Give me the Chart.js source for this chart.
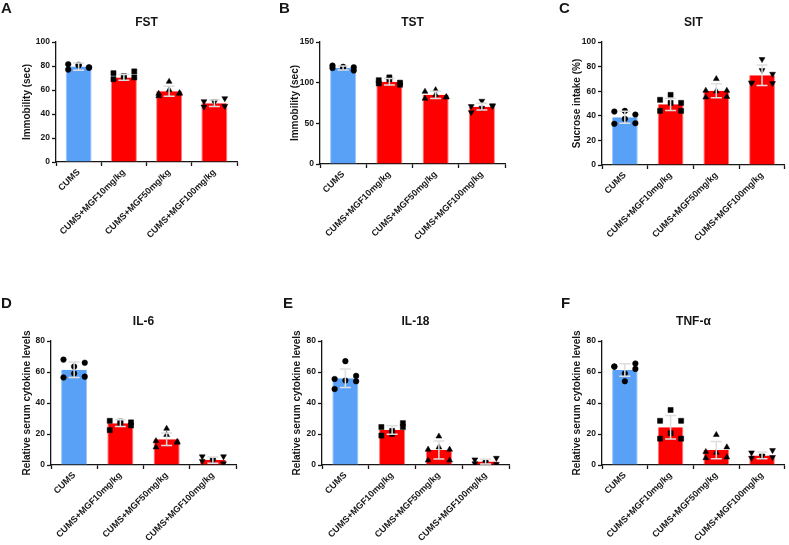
<!DOCTYPE html>
<html><head><meta charset="utf-8">
<script src="https://cdn.jsdelivr.net/npm/chart.js@4.4.1/dist/chart.umd.min.js"></script>
<style>
html,body{margin:0;padding:0;background:#fff;}
#wrap{position:relative;width:789px;height:545px;overflow:hidden;background:#fff;}
canvas{position:absolute;}
</style></head><body>
<div id="wrap">
<canvas id="cA" width="263" height="262" style="left:0px;top:0px"></canvas>
<canvas id="cB" width="263" height="262" style="left:263px;top:0px"></canvas>
<canvas id="cC" width="263" height="262" style="left:526px;top:0px"></canvas>
<canvas id="cD" width="263" height="270" style="left:0px;top:275px"></canvas>
<canvas id="cE" width="263" height="270" style="left:263px;top:275px"></canvas>
<canvas id="cF" width="263" height="270" style="left:526px;top:275px"></canvas>
</div>
<script>
// ---------- data ----------
const categories = ['CUMS', 'CUMS+MGF10mg/kg', 'CUMS+MGF50mg/kg', 'CUMS+MGF100mg/kg'];

const fstMean = [79.5, 70.5, 59, 49];
const fstSD = [3, 2.4, 4.2, 2.7];
const fstPoints = [[81.5, 77, 81, 80.5, 79, 78.5], [74, 69, 71.5, 70, 75.5, 70.5], [55, 57, 67, 60, 57, 57.5], [46, 50.5, 50, 50.5, 53, 46.5]];
const fstTicks = [0, 20, 40, 60, 80, 100];

const tstMean = [118, 101, 85, 70.5];
const tstSD = [2.5, 4, 4.5, 4.2];
const tstPoints = [[118, 121, 119.5, 119, 115, 119], [99, 103, 104, 106.5, 100, 97.5], [89, 80.5, 85, 91, 82, 82.5], [71, 63.5, 69, 77.5, 72, 71]];
const tstTicks = [0, 50, 100, 150];

const sitMean = [38.8, 49.3, 60.4, 72.9];
const sitSD = [4.8, 4.9, 5.7, 8.3];
const sitPoints = [[43.5, 33.5, 44, 37.5, 41, 34], [53, 44, 50.5, 57, 50.5, 44], [60.5, 55, 70, 60, 55.5, 60.5], [66.5, 67, 86, 77, 74, 66.5]];
const sitTicks = [0, 20, 40, 60, 80, 100];

const il6Mean = [61.5, 27, 16.6, 3.2];
const il6SD = [5, 2.2, 4, 2];
const il6Points = [[68, 56.5, 63.5, 59, 66, 57], [28.5, 22.5, 27, 28, 25.5, 27.5], [15.5, 11.5, 23.5, 19.5, 15, 14.5], [2.5, 5.5, 2.5, 3.5, 5.5, 1]];
const il18Mean = [56, 22.6, 9.7, 2.2];
const il18SD = [6, 2.7, 5.8, 1.5];
const il18Points = [[55.5, 49, 67, 54.5, 57.5, 54], [24.5, 19, 22, 20, 27, 24.5], [10, 3, 18.5, 11.5, 3, 10], [1, 3.5, 1.5, 2.5, 4.5, 0.5]];
const tnfMean = [61.3, 24.3, 9.6, 6.2];
const tnfSD = [4.1, 7.6, 5.5, 2.2];
const tnfPoints = [[63.5, 63.5, 54, 59, 65.5, 62], [17, 28.5, 35.5, 20.5, 28.5, 17], [8.5, 4.5, 19.5, 8, 11.5, 5], [8, 4.5, 6, 5.5, 9.5, 5]];
const cytoTicks = [0, 20, 40, 60, 80];

// ---------- style ----------
const FONT = '"Liberation Sans", Arial, Helvetica, sans-serif';
const INK = '#161616';
const BLUE = '#58a1f7', RED = '#ff0000';
const BAR_COLORS = [BLUE, RED, RED, RED];
const BAR_EDGES = ['#9cc7fb', '#ff7d7d', '#ff7d7d', '#ff7d7d'];
const JITTER = [-0.23, -0.23, 0, 0, 0.23, 0.23];
const MARKERS = [
  {style: 'circle', r: 2.8, rot: 0},
  {style: 'rect', r: 3.6, rot: 0},
  {style: 'triangle', r: 3.4, rot: 0},
  {style: 'triangle', r: 3.4, rot: 180}
];
Chart.defaults.font.family = FONT;
Chart.defaults.color = INK;

const errorBars = {
  id: 'errorBars',
  afterDatasetsDraw(chart, args, opts) {
    const {ctx} = chart;
    const xs = chart.scales.x, ys = chart.scales.y;
    ctx.save();
    ctx.strokeStyle = opts.color;
    ctx.lineWidth = opts.width;
    opts.mean.forEach((m, i) => {
      const x = xs.getPixelForValue(i);
      const yt = ys.getPixelForValue(m + opts.sd[i]);
      const yb = ys.getPixelForValue(Math.max(0, m - opts.sd[i]));
      ctx.beginPath();
      ctx.moveTo(x, yt); ctx.lineTo(x, yb);
      ctx.moveTo(x - opts.cap, yt); ctx.lineTo(x + opts.cap, yt);
      ctx.moveTo(x - opts.cap, yb); ctx.lineTo(x + opts.cap, yb);
      ctx.stroke();
    });
    ctx.restore();
  }
};

const panelText = {
  id: 'panelText',
  afterDraw(chart, args, opts) {
    const {ctx, chartArea} = chart;
    ctx.save();
    ctx.fillStyle = INK;
    ctx.textBaseline = 'middle';
    ctx.textAlign = 'center';
    ctx.font = 'bold 12px ' + FONT;
    ctx.fillText(opts.title, (chartArea.left + chartArea.right) / 2, chartArea.top - 19);
    ctx.textAlign = 'left';
    ctx.font = 'bold 15px ' + FONT;
    ctx.fillText(opts.letter, opts.lx, opts.ly);
    ctx.restore();
  }
};

function makePanel(id, p) {
  const el = document.getElementById(id);
  const cw = el.width, ch = el.height;
  const pointSets = p.points.map((vals, g) => ({
    type: 'scatter',
    order: 0,
    data: vals.map((v, k) => ({x: g + JITTER[k], y: v})),
    pointStyle: MARKERS[g].style,
    pointRotation: MARKERS[g].rot,
    pointRadius: MARKERS[g].r,
    pointHoverRadius: MARKERS[g].r,
    backgroundColor: '#000',
    borderColor: '#000',
    borderWidth: 0.5
  }));
  const yt = p.yTicks;
  new Chart(el, {
    type: 'bar',
    data: {
      datasets: [{
        type: 'bar',
        order: 5,
        grouped: false,
        data: p.mean.map((m, i) => ({x: i, y: m})),
        backgroundColor: BAR_COLORS,
        borderColor: BAR_EDGES,
        borderWidth: {left: 1, right: 1, top: 0, bottom: 0},
        barPercentage: p.barPct,
        categoryPercentage: 1
      }, ...pointSets]
    },
    options: {
      responsive: false,
      animation: false,
      events: [],
      layout: {padding: {left: p.pl, right: cw - (p.R - p.cx), top: p.T - p.cy, bottom: 0}},
      plugins: {
        legend: {display: false},
        tooltip: {enabled: false},
        errorBars: {mean: p.mean, sd: p.sd, color: '#dedede', width: 1.5, cap: 5.5},
        panelText: {title: p.title, letter: p.letter, lx: p.lx, ly: p.ly}
      },
      scales: {
        x: {
          type: 'linear',
          offset: false,
          min: -0.5, max: categories.length - 0.5,
          afterBuildTicks: s => { s.ticks = categories.map((c, i) => ({value: i})); },
          afterFit: s => { s.height = ch - (p.B - p.cy); },
          grid: {display: true, drawOnChartArea: false, tickLength: 4, tickColor: INK, tickWidth: 1.3},
          border: {display: true, color: INK, width: 1.3},
          ticks: {autoSkip: false, maxRotation: 45, minRotation: 45, padding: 1, color: INK,
                  font: {size: 9, weight: 'bold'}, callback: v => categories[v]}
        },
        y: {
          type: 'linear',
          min: yt[0], max: yt[yt.length - 1],
          afterFit: s => { s.width = (p.L - p.cx) - p.pl; },
          afterBuildTicks: s => { s.ticks = yt.map(v => ({value: v})); },
          grid: {display: true, drawOnChartArea: false, tickLength: 4, tickColor: INK, tickWidth: 1.3},
          border: {display: true, color: INK, width: 1.3},
          ticks: {padding: 2, color: INK, font: {size: 8.5, weight: 'bold'}},
          title: {display: true, text: p.yTitle, color: INK, padding: 0, font: {size: 10, weight: 'bold'}}
        }
      }
    },
    plugins: [errorBars, panelText]
  });
}

makePanel('cA', {cx: 0, cy: 0, L: 56, R: 237, T: 42, B: 162, pl: 21, barPct: 0.575,
  title: 'FST', letter: 'A', lx: 1, ly: 9, yTitle: 'Immobility (sec)', yTicks: fstTicks,
  mean: fstMean, sd: fstSD, points: fstPoints});
makePanel('cB', {cx: 263, cy: 0, L: 320, R: 505, T: 42, B: 164, pl: 26, barPct: 0.565,
  title: 'TST', letter: 'B', lx: 16, ly: 9, yTitle: 'Immobility (sec)', yTicks: tstTicks,
  mean: tstMean, sd: tstSD, points: tstPoints});
makePanel('cC', {cx: 526, cy: 0, L: 602, R: 786, T: 42, B: 165, pl: 45, barPct: 0.565,
  title: 'SIT', letter: 'C', lx: 33, ly: 9, yTitle: 'Sucrose intake (%)', yTicks: sitTicks,
  mean: sitMean, sd: sitSD, points: sitPoints});
makePanel('cD', {cx: 0, cy: 275, L: 51, R: 236, T: 341, B: 465, pl: 21, barPct: 0.565,
  title: 'IL-6', letter: 'D', lx: 1, ly: 29, yTitle: 'Relative serum cytokine levels', yTicks: cytoTicks,
  mean: il6Mean, sd: il6SD, points: il6Points});
makePanel('cE', {cx: 263, cy: 275, L: 322, R: 509, T: 341, B: 465, pl: 28, barPct: 0.56,
  title: 'IL-18', letter: 'E', lx: 20, ly: 29, yTitle: 'Relative serum cytokine levels', yTicks: cytoTicks,
  mean: il18Mean, sd: il18SD, points: il18Points});
makePanel('cF', {cx: 526, cy: 275, L: 602, R: 789, T: 341, B: 465, pl: 45, barPct: 0.56,
  title: 'TNF-α', letter: 'F', lx: 35, ly: 29, yTitle: 'Relative serum cytokine levels', yTicks: cytoTicks,
  mean: tnfMean, sd: tnfSD, points: tnfPoints});
</script>
</body></html>
